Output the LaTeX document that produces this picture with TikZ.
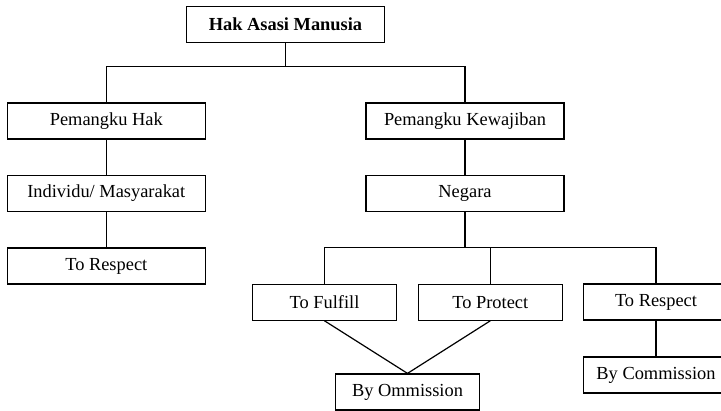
\documentclass[tikz,border=0pt]{standalone}
\usepackage{fontspec}
\setmainfont{Liberation Serif}
\begin{document}
\begin{tikzpicture}[x=1pt,y=-1pt,
  box/.style={draw, line width=1.2pt, rectangle, inner sep=0pt, minimum height=36pt, font=\fontsize{18.4}{20}\selectfont},
  wide/.style={box, minimum width=198pt},
  narrow/.style={box, minimum width=144.4pt},
  link/.style={line width=1.2pt}]
\useasboundingbox (0,0) rectangle (721,411);
\clip (0,0) rectangle (721,411);
\node[box, minimum width=198.4pt, font=\fontsize{18.4}{20}\selectfont\bfseries] (ham) at (285.5,24.5) {Hak Asasi Manusia};
\node[wide] (pk) at (106.3,121) {Pemangku Hak};
\node[wide] (ind) at (106.3,193.5) {Individu/ Masyarakat};
\node[wide] (trl) at (106.3,266) {To Respect};
\node[wide] (pkw) at (465,121) {Pemangku Kewajiban};
\node[wide] (neg) at (465,193.5) {Negara};
\node[narrow] (tf) at (324.5,302.2) {To Fulfill};
\node[narrow] (tp) at (490.3,302.2) {To Protect};
\node[box, minimum width=145.4pt] (trr) at (656,302) {To Respect};
\node[box, minimum width=145.4pt] (bc) at (656,375) {By Commission};
\node[narrow, minimum width=143.6pt] (bo) at (407.5,392) {By Ommission};
\coordinate (j1) at (285.5,66.7);
\coordinate (j2) at (465,247.7);
\draw[link] (ham.south) -- (j1);
\draw[link] (pk.north) -- (pk.north |- j1) -- (pkw.north |- j1) -- (pkw.north);
\draw[link] (pk.south) -- (ind.north);
\draw[link] (ind.south) -- (trl.north);
\draw[link] (pkw.south) -- (neg.north);
\draw[link] (neg.south) -- (j2);
\draw[link] (tf.north) -- (tf.north |- j2) -- (trr.north |- j2) -- (trr.north);
\draw[link] (tp.north) -- (tp.north |- j2);
\draw[link] (tf.south) -- (bo.north);
\draw[link] (tp.south) -- (bo.north);
\draw[link] (trr.south) -- (bc.north);
\end{tikzpicture}
\end{document}
